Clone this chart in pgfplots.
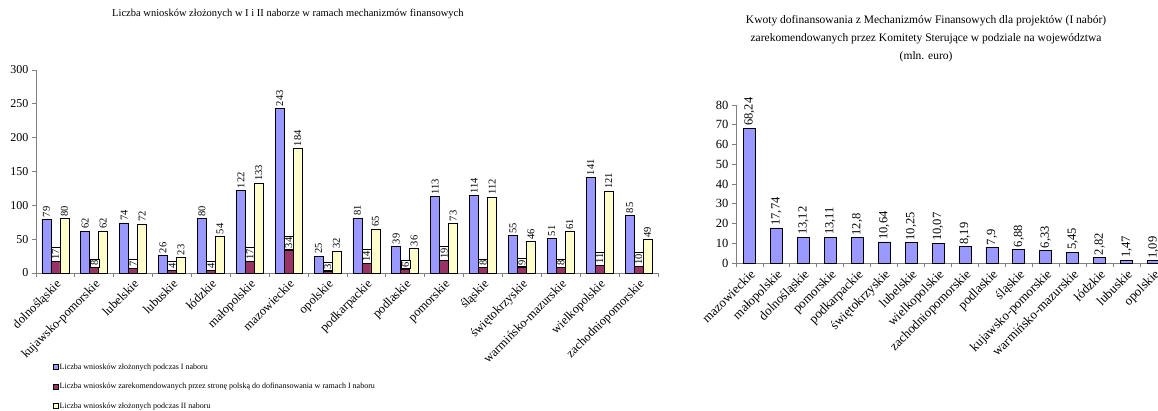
\documentclass[border=0pt]{standalone}
\usepackage{fontspec}
\setmainfont{Liberation Serif}
\usepackage{pgfplots}
\usepackage{pgfplotstable}
\pgfplotsset{compat=1.18}
\definecolor{cblue}{HTML}{9999FF}
\definecolor{cred}{HTML}{993366}
\definecolor{cyel}{HTML}{FFFFCC}
\definecolor{axgray}{HTML}{808080}

\pgfplotstableread{
x I rec II
0 79 17 80
1 62 8 62
2 74 7 72
3 26 4 23
4 80 4 54
5 122 17 133
6 243 34 184
7 25 3 32
8 81 14 65
9 39 6 36
10 113 19 73
11 114 8 112
12 55 9 46
13 51 8 61
14 141 11 121
15 85 10 49
}\leftdata

\pgfplotstableread{
x y label
0 68.24 68,24
1 17.74 17,74
2 13.12 13,12
3 13.11 13,11
4 12.8 12,8
5 10.64 10,64
6 10.25 10,25
7 10.07 10,07
8 8.19 8,19
9 7.9 7,9
10 6.88 6,88
11 6.33 6,33
12 5.45 5,45
13 2.82 2,82
14 1.47 1,47
15 1.09 1,09
}\rightdata

\pgfplotsset{
  excelaxis/.style={
    scale only axis,
    ybar,
    xmin=-0.5, xmax=15.5, ymin=0,
    xtick={0,...,15},
    minor xtick={-0.5,0.5,...,15.5},
    axis x line=bottom, axis y line=left,
    axis line style={-, axgray, line width=0.8pt},
    tick align=outside,
    major tick length=4pt, minor tick length=4pt,
    major x tick style={draw=none},
    minor x tick style={axgray, line width=0.8pt},
    ytick style={axgray, line width=0.8pt},
    /pgf/number format/assume math mode=true,
    xticklabel style={rotate=45, anchor=north east, inner sep=1pt},
    title style={align=center},
  }
}

\begin{document}
\begin{tikzpicture}[x=1pt,y=1pt]
\useasboundingbox (0,0) rectangle (1158,410);
\begin{axis}[
  excelaxis,
  at={(36pt,137pt)}, anchor=south west,
  width=622pt, height=203pt,
  ymax=300, ytick={0,50,...,300},
  yticklabel style={font=\fontsize{12}{12}\selectfont},
  xticklabel style={font=\fontsize{12.5}{13}\selectfont},
  bar width=9pt,
  xticklabels={dolnośląskie,kujawsko-pomorskie,lubelskie,lubuskie,łódzkie,małopolskie,mazowieckie,opolskie,podkarpackie,podlaskie,pomorskie,śląskie,świętokrzyskie,warmińsko-mazurskie,wielkopolskie,zachodniopomorskie},
  title={Liczba wniosków złożonych w I i II naborze w ramach mechanizmów finansowych},
  title style={font=\fontsize{10.5}{12}\selectfont, at={(0.405,1.246)}, anchor=center},
  legend style={at={(0.0225,-0.428)}, anchor=north west, draw=none, fill=none,
    font=\fontsize{8}{8}\selectfont, row sep=10pt,
    nodes={inner sep=1pt, text height=6pt, text depth=1.5pt}},
  legend cell align=left,
]
\addplot[fill=cblue, draw=black, line width=0.8pt, bar shift=-9pt,
  nodes near coords,
  every node near coord/.append style={rotate=90, anchor=west, inner sep=2pt, font=\fontsize{10.5}{10.5}\selectfont},
  legend image code/.code={\draw[fill=cblue, draw=black, line width=0.5pt] (0pt,-2.5pt) rectangle (5pt,2.5pt);}]
  table[x=x, y=I]{\leftdata};
\addlegendentry{Liczba wniosków złożonych podczas I naboru}
\addplot[fill=cred, draw=black, line width=0.8pt, bar shift=0pt,
  nodes near coords,
  every node near coord/.append style={rotate=90, anchor=west, fill=white, draw=black, line width=0.6pt, inner xsep=1.5pt, inner ysep=1pt, text height=7pt, text depth=0pt, font=\fontsize{10.5}{10.5}\selectfont},
  legend image code/.code={\draw[fill=cred, draw=black, line width=0.5pt] (0pt,-2.5pt) rectangle (5pt,2.5pt);}]
  table[x=x, y=rec]{\leftdata};
\addlegendentry{Liczba wniosków zarekomendowanych przez stronę polską do dofinansowania w ramach I naboru}
\addplot[fill=cyel, draw=black, line width=0.8pt, bar shift=9pt,
  nodes near coords,
  every node near coord/.append style={rotate=90, anchor=west, inner sep=2pt, font=\fontsize{10.5}{10.5}\selectfont},
  legend image code/.code={\draw[fill=cyel, draw=black, line width=0.5pt] (0pt,-2.5pt) rectangle (5pt,2.5pt);}]
  table[x=x, y=II]{\leftdata};
\addlegendentry{Liczba wniosków złożonych podczas II naboru}
\end{axis}

\begin{axis}[
  excelaxis,
  at={(736pt,147pt)}, anchor=south west,
  width=431pt, height=158pt,
  ymax=80, ytick={0,10,...,80},
  yticklabel style={font=\fontsize{12.5}{12.5}\selectfont},
  xticklabel style={font=\fontsize{13}{13}\selectfont},
  bar width=12pt,
  xticklabels={mazowieckie,małopolskie,dolnośląskie,pomorskie,podkarpackie,świętokrzyskie,lubelskie,wielkopolskie,zachodniopomorskie,podlaskie,śląskie,kujawsko-pomorskie,warmińsko-mazurskie,łódzkie,lubuskie,opolskie},
  title={Kwoty dofinansowania z Mechanizmów Finansowych dla projektów (I nabór)\\zarekomendowanych przez Komitety Sterujące w podziale na województwa\\(mln. euro)},
  title style={font=\fontsize{11.5}{18}\selectfont, at={(0.441,1.55)}, anchor=north},
  point meta=explicit symbolic,
]
\addplot[fill=cblue, draw=black, line width=0.8pt,
  nodes near coords,
  every node near coord/.append style={rotate=90, anchor=west, inner sep=2pt, font=\fontsize{12.5}{12.5}\selectfont}]
  table[x=x, y=y, meta=label]{\rightdata};
\end{axis}
\end{tikzpicture}
\end{document}
